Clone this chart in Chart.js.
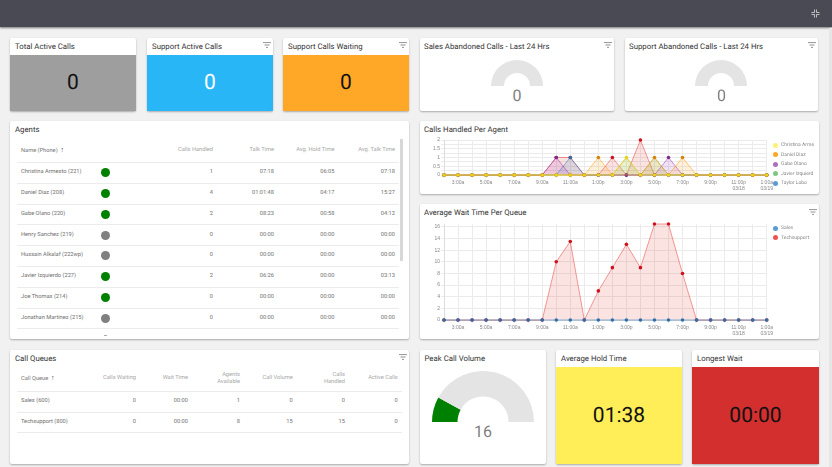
<!DOCTYPE html>
<html>
<head>
<meta charset="utf-8">
<script src="https://cdn.jsdelivr.net/npm/chart.js@4"></script>
<style>
html, body { margin: 0; padding: 0; overflow: hidden; }
body { width: 832px; height: 467px; background: #f1f1f1; font-family: Roboto, sans-serif; position: relative; text-rendering: geometricPrecision; }
.abs { position: absolute; white-space: nowrap; }
.card { position: absolute; background: #fff; border-radius: 2px; box-shadow: 0 1px 2px rgba(0,0,0,.3); }
.title { position: absolute; font-size: 7.8px; color: #333; white-space: nowrap; line-height: 10px; }
.tile { position: absolute; display: flex; align-items: center; justify-content: center; font-size: 21px; }
.cell { position: absolute; font-size: 5.7px; line-height: 7px; color: #6f6f6f; white-space: nowrap; }
.head { color: #a8a8a8; text-align: right; }
.line { position: absolute; height: 1px; background: #ececec; }
.ley { position: absolute; font-size: 5px; line-height: 6px; color: #888; white-space: nowrap; }
canvas { position: absolute; }
</style>
</head>
<body>
<div class="abs" style="left:0;top:0;width:832px;height:27px;background:#4a4a55;box-shadow:0 1px 2px rgba(0,0,0,.5)"></div>
<svg class="abs" style="left:811px;top:9px" width="9" height="9" viewBox="0 0 9 9" fill="none" stroke="#ddd" stroke-width=".8"><path d="M3.5 0.5V3.5H0.5M5.5 0.5V3.5H8.5M3.5 8.5V5.5H0.5M5.5 8.5V5.5H8.5"/></svg>
<div class="abs" style="left:829px;top:28px;width:3px;height:439px;background:#e6e6e6"></div>
<script>
// Datos de las graficas
const horas = ['2:00a','3:00a','4:00a','5:00a','6:00a','7:00a','8:00a','9:00a','10:00a','11:00a','12:00p','1:00p','2:00p','3:00p','4:00p','5:00p','6:00p','7:00p','8:00p','9:00p','10:00p',['11:00p','03/18'],'12:00a',['1:00a','03/19']];

const nombresAgentes = ['Christina Arme','Daniel Diaz','Gabe Olano','Javier Izquierd','Taylor Lobo'];
const coloresAgentes = ['#fff176','#ffa726','#ab6fbd','#81c784','#5b9bd5'];
const llamadasChristina = [0,0,0,0,0,0,0,0,0,0,0,0,0,1,0,0,0,0,0,0,0,0,0,0];
const llamadasDaniel    = [0,0,0,0,0,0,0,0,0,0,0,1,0,0,0,1,0,1,0,0,0,0,0,0];
const llamadasGabe      = [0,0,0,0,0,0,0,0,1,0,0,0,0,0,0,0,1,0,0,0,0,0,0,0];
const llamadasJavier    = [0,0,0,0,0,0,0,0,0,0,0,0,0,1,0,1,0,0,0,0,0,0,0,0];
const llamadasTaylor    = [0,0,0,0,0,0,0,0,0,1,0,0,0,0,0,0,0,0,0,0,0,0,0,0];
const llamadasOtro      = [0,0,0,0,0,0,0,0,1,1,0,0,1,0,2,0,0,0,0,0,0,0,0,0];
const ticksLlamadas = [0,0.5,1,1.5,2];

const nombresColas = ['Sales','Techsupport'];
const coloresColas = ['#5b9bd5','#ef5350'];
const esperaSales = [0,0,0,0,0,0,0,0,0,0,0,0,0,0,0,0,0,0,0,0,0,0,0,0];
const esperaTech  = [0,0,0,0,0,0,0,0,10,13.5,0,5,9,13,9,16.5,16.5,8,0,0,0,0,0,0];
const ticksEspera = [0,2,4,6,8,10,12,14,16];

const medidores = [['Sales Abandoned Calls - Last 24 Hrs',0],['Support Abandoned Calls - Last 24 Hrs',0],['Peak Call Volume',16]];
const maxMedidor = 100;

// Datos de las tablas
const columnasAgentes = ['Calls Handled','Talk Time','Avg. Hold Time','Avg. Talk Time'];
const nombresTabla = ['Christina Armesto (221)','Daniel Diaz (208)','Gabe Olano (220)','Henry Sanchez (219)','Hussain Alkalaf (222wp)','Javier Izquierdo (227)','Joe Thomas (214)','Jonathan Martinez (215)'];
const estadosTabla = ['green','green','green','gray','gray','green','green','gray'];
const filasAgentes = [
    ['1','07:18','06:05','07:18'],
    ['4','01:01:48','04:17','15:27'],
    ['2','08:23','00:58','04:12'],
    ['0','00:00','00:00','00:00'],
    ['0','00:00','00:00','00:00'],
    ['2','06:26','00:00','03:13'],
    ['0','00:00','00:00','00:00'],
    ['0','00:00','00:00','00:00']
];
const columnasColas = ['Calls Waiting','Wait Time',['Agents','Available'],'Call Volume',['Calls','Handled'],'Active Calls'];
const colasTabla = ['Sales (600)','Techsupport (800)'];
const filasColas = [
    ['0','00:00','1','0','0','0'],
    ['0','00:00','8','15','15','0']
];

// Crear un elemento con posicion absoluta
function crear(clase, css, texto) {
    const el = document.createElement('div');
    el.className = clase;
    el.style.cssText = css;
    if (texto !== undefined) el.innerHTML = texto;
    document.body.appendChild(el);
    return el;
}

function tarjeta(x, y, w, h) {
    crear('card', `left:${x}px;top:${y}px;width:${w}px;height:${h}px`);
}

function titulo(x, y, texto) {
    crear('title', `left:${x}px;top:${y}px`, texto);
}

function filtro(x, y) {
    crear('abs', `left:${x - 4}px;top:${y - 3}px;line-height:0`,
        '<svg width="8" height="6" viewBox="0 0 8 6" fill="none" stroke="#777" stroke-width=".8"><path d="M0 .6H8M1.5 3H6.5M3 5.4H5"/></svg>');
}

function mosaico(x, y, w, titulo_, fondo, color, valor, alto) {
    tarjeta(x, y, w, alto);
    titulo(x + 5, y + 3.5, titulo_);
    crear('tile', `left:${x}px;top:${y + 17}px;width:${w}px;height:${alto - 17}px;background:${fondo};color:${color}`, valor);
}

// Tarjetas de arriba
mosaico(10, 38, 126, 'Total Active Calls', '#9e9e9e', '#111', '0', 73);
mosaico(147, 38, 126, 'Support Active Calls', '#29b6f6', '#fff', '0', 73);
mosaico(283, 38, 126, 'Support Calls Waiting', '#ffa726', '#111', '0', 73);
filtro(267, 45);
filtro(403, 45);

tarjeta(420, 38, 194, 73);
tarjeta(625, 38, 193, 73);
titulo(424, 41.5, medidores[0][0]);
titulo(629, 41.5, medidores[1][0]);
filtro(608, 45);
filtro(812, 45);

// Tabla de agentes
tarjeta(10, 121, 399, 218);
titulo(15, 125, 'Agents');
crear('cell', 'left:21px;top:146.5px;color:#777', 'Name (Phone) &nbsp;<span style="color:#333;font-size:7px">&#8593;</span>');
const derechaAgentes = [213, 274, 334.5, 395];
columnasAgentes.forEach((col, i) => {
    crear('cell head', `right:${832 - derechaAgentes[i]}px;top:146.5px`, col);
});
crear('line', 'left:17px;top:162px;width:382px');
nombresTabla.forEach((nombre, i) => {
    const y = 172.7 + i * 20.8;
    crear('cell', `left:21px;top:${y - 3.5}px`, nombre);
    crear('abs', `left:100.5px;top:${y - 4.5}px;width:9px;height:9px;border-radius:50%;background:${estadosTabla[i] === 'green' ? '#008000' : '#808080'}`);
    filasAgentes[i].forEach((v, j) => {
        crear('cell', `right:${832 - derechaAgentes[j]}px;top:${y - 3.5}px`, v);
    });
    crear('line', `left:17px;top:${y + 10}px;width:382px`);
});
crear('abs', 'left:104px;top:334.5px;width:3px;height:1px;background:#aaa');
crear('abs', 'left:400px;top:139px;width:2.5px;height:122px;background:#d8d8d8');

// Tabla de colas
tarjeta(10, 350, 399, 114);
titulo(15, 353.5, 'Call Queues');
filtro(403, 357);
crear('cell', 'left:21px;top:375px;color:#777', 'Call Queue &nbsp;<span style="color:#333;font-size:7px">&#8593;</span>');
const derechaColas = [136, 188, 240, 292.7, 345, 397.7];
columnasColas.forEach((col, i) => {
    const doble = Array.isArray(col);
    crear('cell head', `right:${832 - derechaColas[i]}px;top:${doble ? 371.5 : 375}px`, doble ? col.join('<br>') : col);
});
crear('line', 'left:17px;top:391px;width:385px');
colasTabla.forEach((nombre, i) => {
    const y = 401.7 + i * 20.7;
    crear('cell', `left:21px;top:${y - 3.5}px`, nombre);
    filasColas[i].forEach((v, j) => {
        crear('cell', `right:${832 - derechaColas[j]}px;top:${y - 3.5}px`, v);
    });
    crear('line', `left:17px;top:${y + 10}px;width:385px`);
});

// Tarjetas de abajo
tarjeta(420, 350, 126, 114);
titulo(424.5, 353.5, medidores[2][0]);
mosaico(556, 350, 126, 'Average Hold Time', '#ffee58', '#111', '01:38', 114);
mosaico(692, 350, 127, 'Longest Wait', '#d32f2f', '#111', '00:00', 114);

// Tarjetas de las graficas de linea
tarjeta(420, 121, 399, 73);
titulo(424, 125, 'Calls Handled Per Agent');
tarjeta(420, 204, 399, 135);
titulo(424, 208, 'Average Wait Time Per Queue');
filtro(813, 212);

function lienzo(x, y, w, h) {
    const c = document.createElement('canvas');
    c.width = w;
    c.height = h;
    c.style.cssText = `left:${x}px;top:${y}px;width:${w}px;height:${h}px`;
    document.body.appendChild(c);
    return c;
}

function serie(label, data, linea, punto, extra) {
    return Object.assign({
        label, data,
        borderColor: linea,
        backgroundColor: linea.replace(/[\d.]+\)$/, '0.14)'),
        pointBackgroundColor: punto,
        pointBorderWidth: 0,
        pointRadius: 1.8,
        borderWidth: 1,
        tension: 0,
        clip: false,
        fill: 'origin'
    }, extra);
}

function opciones(maximo, paso, ticksY, arriba) {
    return {
        responsive: false,
        animation: false,
        layout: { padding: { top: arriba, right: 52.3, left: 0, bottom: 0 } },
        plugins: { tooltip: { enabled: false }, legend: { display: false } },
        scales: {
            x: {
                afterFit: eje => { eje.height = 17; },
                grid: { color: '#ebebeb', tickLength: 3 },
                border: { color: '#ddd' },
                ticks: {
                    autoSkip: false,
                    maxRotation: 0,
                    padding: 1.5,
                    font: { size: 5, lineHeight: 1.2 },
                    color: '#888',
                    callback: function (v, i) { return i % 2 === 1 ? this.getLabelForValue(v) : ''; }
                }
            },
            y: {
                min: 0,
                max: maximo,
                afterFit: eje => { eje.width = 20; },
                grid: { color: '#ebebeb', tickLength: 3 },
                border: { color: '#ddd' },
                ticks: {
                    stepSize: paso,
                    padding: 1,
                    font: { size: 5 },
                    color: '#888',
                    autoSkip: false,
                    callback: v => ticksY.includes(v) ? v : ''
                }
            }
        }
    };
}

// Leyenda a la derecha de cada grafica
function leyenda(y, nombres, colores) {
    nombres.forEach((nombre, i) => {
        const cy = y + i * 9.5;
        crear('abs', `left:772.5px;top:${cy - 2.5}px;width:5px;height:5px;border-radius:50%;background:${colores[i]}`);
        crear('ley', `left:781px;top:${cy - 3}px`, nombre);
    });
}

// Grafica de llamadas por agente
new Chart(lienzo(424, 135, 395, 57), {
    type: 'line',
    data: {
        labels: horas,
        datasets: [
            serie(nombresAgentes[0], llamadasChristina, 'rgba(240,215,40,0.9)', '#e8d21d'),
            serie(nombresAgentes[1], llamadasDaniel, 'rgba(255,152,0,0.5)', '#d9820a', { pointRadius: ctx => ctx.dataIndex === 13 ? 0 : 1.8 }),
            serie(nombresAgentes[2], llamadasGabe, 'rgba(156,39,176,0.5)', '#7b2d8e'),
            serie(nombresAgentes[3], llamadasJavier, 'rgba(76,175,80,0.4)', '#4caf50', { pointRadius: 0 }),
            serie(nombresAgentes[4], llamadasTaylor, 'rgba(33,110,180,0.5)', '#2f6ea8'),
            serie('Otro', llamadasOtro, 'rgba(229,57,53,0.5)', '#d0101c')
        ]
    },
    options: opciones(2, 0.25, ticksLlamadas, 5)
});
leyenda(145.3, nombresAgentes, coloresAgentes);

// Grafica de espera por cola: paso de 0.5 para que el 16 no se pierda junto al maximo
const opcionesEspera = opciones(16.5, 0.5, ticksEspera, 3.5);
opcionesEspera.scales.y.grid.color = ctx => ticksEspera.includes(ctx.tick.value) ? '#ebebeb' : 'transparent';
new Chart(lienzo(424, 220, 395, 117), {
    type: 'line',
    data: {
        labels: horas,
        datasets: [
            serie(nombresColas[0], esperaSales, 'rgba(33,110,180,0.5)', '#2f6ea8'),
            serie(nombresColas[1], esperaTech, 'rgba(229,57,53,0.5)', '#d0101c')
        ]
    },
    options: opcionesEspera
});
leyenda(228.3, nombresColas, coloresColas);

// Medidores de media dona
function medidor(x, y, radio, valor) {
    new Chart(lienzo(x - radio, y - radio, radio * 2, radio), {
        type: 'doughnut',
        data: {
            datasets: [{
                data: [valor, maxMedidor - valor],
                backgroundColor: ['#008000', '#e4e4e4'],
                borderWidth: 0
            }]
        },
        options: {
            responsive: false,
            animation: false,
            rotation: -90,
            circumference: 180,
            cutout: '50%',
            plugins: { legend: { display: false }, tooltip: { enabled: false } }
        }
    });
}

medidor(517, 86, 26, medidores[0][1]);
medidor(721, 86, 26, medidores[1][1]);
medidor(483, 422, 51, medidores[2][1]);

function valorMedidor(x, y, valor) {
    crear('abs', `left:${x - 30}px;width:60px;top:${y - 10}px;line-height:20px;text-align:center;font-size:16px;color:#808080`, valor);
}
valorMedidor(517, 95.5, medidores[0][1]);
valorMedidor(721.5, 95.5, medidores[1][1]);
valorMedidor(483, 431.5, medidores[2][1]);
</script>
</body>
</html>
